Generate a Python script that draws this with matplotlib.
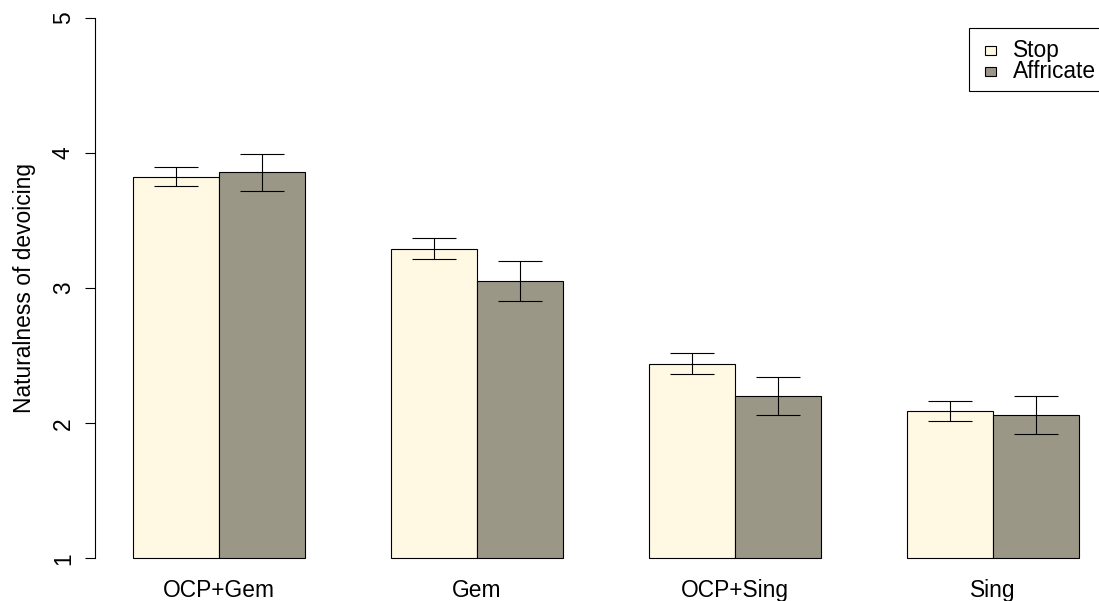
import matplotlib
matplotlib.use("Agg")
import matplotlib.pyplot as plt
from matplotlib.patches import Rectangle
import numpy as np

plt.rcParams['font.family'] = ['Liberation Sans', 'DejaVu Sans']

categories = ["OCP+Gem", "Gem", "OCP+Sing", "Sing"]
series_names = ["Stop", "Affricate"]
stop_mean = [3.825, 3.292, 2.440, 2.088]
stop_lo = [3.756, 3.215, 2.364, 2.014]
stop_hi = [3.899, 3.373, 2.520, 2.164]
aff_mean = [3.857, 3.053, 2.199, 2.061]
aff_lo = [3.716, 2.907, 2.058, 1.920]
aff_hi = [3.995, 3.198, 2.342, 2.204]
yticks = [1, 2, 3, 4, 5]
ylabel = "Naturalness of devoicing"
colors = ["#FFF8E2", "#9B9787"]
FS = 16.4

W, H = 1099, 601
fig = plt.figure(figsize=(W / 100, H / 100), dpi=100)
left_px, right_px, top_px, bot_px = 95.2, 1117.0, 18.0, 558.3
ax = fig.add_axes([left_px / W, 1 - bot_px / H, (right_px - left_px) / W, (bot_px - top_px) / H])
ax.set_xlim(0.56, 12.44)
ax.set_ylim(1, 5)

n = len(categories)
groups = np.arange(n) * 3
x_stop = groups + 1.5
x_aff = groups + 2.5
base = 1.0

for xs, means, lo, hi, col in [(x_stop, stop_mean, stop_lo, stop_hi, colors[0]),
                               (x_aff, aff_mean, aff_lo, aff_hi, colors[1])]:
    means = np.array(means)
    bars = ax.bar(xs, means - base, bottom=base, width=1.0, color=col,
                  edgecolor="black", linewidth=0.8)
    for b in bars:
        b.set_clip_on(False)
    ax.errorbar(xs, means, yerr=[means - np.array(lo), np.array(hi) - means],
                fmt='none', ecolor="black", elinewidth=0.8, capsize=15.5,
                capthick=0.8)

for s in ["top", "right", "bottom"]:
    ax.spines[s].set_visible(False)
ax.spines["left"].set_bounds(1, 5)
ax.spines["left"].set_linewidth(0.8)
ax.set_yticks(yticks)
ax.set_yticklabels([str(t) for t in yticks], rotation=90, va="center", fontsize=FS)
ax.tick_params(axis="y", length=7.2, width=0.8, pad=7.5)
ax.set_xticks(groups + 2.0)
ax.set_xticklabels(categories, fontsize=FS)
ax.tick_params(axis="x", length=0, pad=15.0)
ax.set_ylabel(ylabel, fontsize=FS, labelpad=11.5)

# legend (drawn in figure pixel space)
def fx(x):
    return x / W

def fy(y):
    return 1 - y / H

fig.patches.append(Rectangle((fx(969), fy(91)), fx(1130) - fx(969), fy(28.3) - fy(91),
                             transform=fig.transFigure, facecolor="white",
                             edgecolor="black", linewidth=0.8))
for i, (name, col) in enumerate(zip(series_names, colors)):
    yc = 50.5 + 21 * i
    fig.patches.append(Rectangle((fx(985), fy(yc + 4.5)), fx(996) - fx(985), fy(yc - 4.5) - fy(yc + 4.5),
                                 transform=fig.transFigure, facecolor=col,
                                 edgecolor="black", linewidth=0.8))
    fig.text(fx(1013), fy(56.7 + 21 * i), name, fontsize=FS, va="baseline", ha="left")

fig.savefig("out.png", dpi=100)
